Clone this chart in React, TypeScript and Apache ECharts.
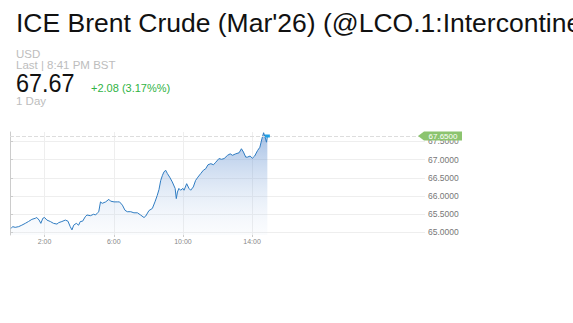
import React, { useEffect, useRef } from "react";
import * as echarts from "echarts";

const times = [
  "0:04", "0:09", "0:18", "0:30", "0:41", "0:53", "1:04", "1:16", "1:28", "1:33",
  "1:41", "1:47", "1:54", "2:00", "2:08", "2:20", "2:31", "2:43", "2:49", "3:00",
  "3:12", "3:21", "3:29", "3:35", "3:41", "3:50", "3:58", "4:04", "4:12", "4:21",
  "4:27", "4:39", "4:50", "4:57", "5:05", "5:08", "5:14", "5:20", "5:32", "5:43",
  "5:49", "6:01", "6:12", "6:20", "6:30", "6:39", "6:47", "6:59", "7:10", "7:22",
  "7:33", "7:45", "7:51", "8:02", "8:14", "8:23", "8:31", "8:37", "8:43", "8:49",
  "8:54", "9:00", "9:06", "9:14", "9:23", "9:33", "9:37", "9:41", "9:46", "9:52",
  "10:00", "10:04", "10:13", "10:21", "10:27", "10:36", "10:44", "10:52", "11:02", "11:11",
  "11:19", "11:27", "11:37", "11:46", "11:54", "12:05", "12:14", "12:23", "12:35", "12:44",
  "12:52", "13:03", "13:15", "13:23", "13:30", "13:38", "13:44", "13:53", "14:01", "14:09",
  "14:19", "14:27", "14:34", "14:40", "14:45", "14:50", "14:53",
];

const prices = [
  65.11, 65.16, 65.14, 65.16, 65.2, 65.25, 65.3, 65.36, 65.39, 65.41,
  65.34, 65.25, 65.39, 65.41, 65.34, 65.3, 65.25, 65.23, 65.27, 65.3,
  65.34, 65.31, 65.16, 65.07, 65.2, 65.25, 65.2, 65.3, 65.31, 65.43,
  65.48, 65.46, 65.5, 65.48, 65.55, 65.57, 65.84, 65.8, 65.84, 65.91,
  65.86, 65.84, 65.84, 65.84, 65.75, 65.61, 65.57, 65.57, 65.54, 65.54,
  65.48, 65.41, 65.45, 65.6, 65.66, 65.84, 66.02, 66.18, 66.43, 66.57,
  66.66, 66.71, 66.62, 66.52, 66.39, 66.21, 65.93, 66.11, 66.21, 66.16,
  66.21, 66.16, 66.34, 66.21, 66.16, 66.25, 66.43, 66.52, 66.62, 66.71,
  66.75, 66.86, 66.89, 66.86, 66.93, 67.03, 67.01, 67.03, 67.12, 67.16,
  67.12, 67.16, 67.19, 67.3, 67.21, 67.07, 67.07, 67.1, 67.04, 67.1,
  67.25, 67.34, 67.57, 67.74, 67.62, 67.48, 67.65,
];

const yTicks = [65, 65.5, 66, 66.5, 67, 67.5];
const xTicks = [2, 6, 10, 14];
const lastPrice = 67.65;

const titleText = "ICE Brent Crude (Mar'26) (@LCO.1:Intercontinental Exchange)";
const currencyText = "USD";
const lastText = "Last | 8:41 PM BST";
const priceText = "67.67";
const changeText = "+2.08 (3.17%%)";
const periodText = "1 Day";

const toHours = (t: string) => {
  const [h, m] = t.split(":").map(Number);
  return h + m / 60;
};

export default function App() {
  const ref = useRef<HTMLDivElement>(null);
  useEffect(() => {
    if (!ref.current) return;
    const chart = echarts.init(ref.current, null, { renderer: "svg" });
    const data = times.map((t, i) => [toHours(t), prices[i]]);
    const lastX = toHours(times[times.length - 1]);
    const font = "Arial, 'Liberation Sans', sans-serif";
    chart.setOption({
      animation: false,
      backgroundColor: "#fff",
      graphic: [
        { type: "text", x: 16, y: 9, style: { text: titleText, fontSize: 26.5, fontFamily: font, fill: "#111", verticalAlign: "top" } },
        { type: "text", x: 16, y: 48, style: { text: currencyText, fontSize: 11.5, fontFamily: font, fill: "#bdbdbd", verticalAlign: "top" } },
        { type: "text", x: 16, y: 59, style: { text: lastText, fontSize: 11.5, fontFamily: font, fill: "#bdbdbd", verticalAlign: "top" } },
        { type: "text", x: 16, y: 70, scaleX: 0.9, style: { text: priceText, fontSize: 26, fontFamily: font, fill: "#111", verticalAlign: "top" } },
        { type: "text", x: 91, y: 82, style: { text: changeText, fontSize: 11, fontFamily: font, fill: "#2fb344", verticalAlign: "top" } },
        { type: "text", x: 16, y: 95, style: { text: periodText, fontSize: 11.5, fontFamily: font, fill: "#bdbdbd", verticalAlign: "top" } },
      ],
      grid: { left: 10, right: 148, top: 132, bottom: 88 },
      xAxis: {
        type: "value",
        min: 0,
        max: 24,
        axisLine: { show: false },
        axisTick: { show: true, customValues: xTicks, length: 2, lineStyle: { color: "#ccc" } },
        axisLabel: {
          customValues: xTicks,
          formatter: (v: number) => `${v}:00`,
          fontSize: 7,
          color: "#888",
          margin: 3,
          fontFamily: font,
        },
        splitLine: { show: true, lineStyle: { color: "#eee" } },
      },
      yAxis: {
        type: "value",
        position: "right",
        min: 64.93,
        max: 67.76,
        axisLine: { show: true, lineStyle: { color: "#ccc" } },
        axisTick: { show: true, customValues: yTicks, length: 3, lineStyle: { color: "#ccc" } },
        axisLabel: {
          customValues: yTicks,
          formatter: (v: number) => v.toFixed(4),
          fontSize: 8.5,
          color: "#777",
          margin: 3,
          fontFamily: font,
        },
        splitLine: { show: true, lineStyle: { color: "#eee" } },
      },
      series: [
        {
          type: "line",
          data,
          showSymbol: false,
          symbol: "none",
          lineStyle: { width: 1, color: "#2f7cc2" },
          areaStyle: {
            color: new echarts.graphic.LinearGradient(0, 0, 0, 1, [
              { offset: 0, color: "rgba(70,125,200,0.7)" },
              { offset: 1, color: "rgba(215,228,245,0.15)" },
            ]),
          },
          markLine: {
            silent: true,
            symbol: "none",
            label: { show: false },
            lineStyle: { type: "dashed", color: "#ddd", width: 1 },
            data: [[{ coord: [0, lastPrice] }, { coord: [24, lastPrice] }]],
          },
          markPoint: {
            silent: true,
            data: [
              {
                coord: [lastX, lastPrice],
                symbol: "rect",
                symbolSize: [5, 3],
                itemStyle: { color: "#1ea0e6" },
                label: { show: false },
              },
              {
                coord: [24, lastPrice],
                symbol: "path://M0,5 L6,0 L44,0 L44,10 L6,10 Z",
                symbolSize: [44, 9],
                symbolOffset: [15, 0],
                itemStyle: { color: "#8cc46f" },
                label: {
                  show: true,
                  position: "inside",
                  offset: [3, 0],
                  formatter: lastPrice.toFixed(4),
                  color: "#fff",
                  fontSize: 8,
                  fontFamily: font,
                },
              },
            ],
          },
        },
      ],
    });
    return () => chart.dispose();
  }, []);
  return (
    <div
      ref={ref}
      style={{ position: "fixed", left: 0, top: 0, width: 573, height: 323 }}
    />
  );
}
